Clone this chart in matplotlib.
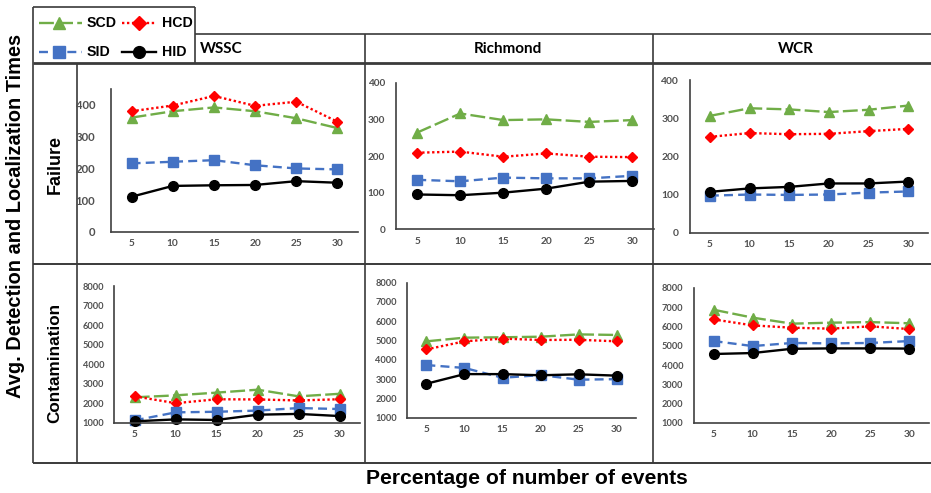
import matplotlib
matplotlib.use("Agg")
import matplotlib.pyplot as plt

# ---------------- data ----------------
categories = [5, 10, 15, 20, 25, 30]
series_names = ["SCD", "HCD", "SID", "HID"]
columns = ["WSSC", "Richmond", "WCR"]
rows = ["Failure", "Contamination"]

fail_wssc_scd = [360, 380, 392, 380, 358, 327]
fail_wssc_hcd = [380, 398, 428, 397, 410, 347]
fail_wssc_sid = [216, 221, 226, 210, 200, 197]
fail_wssc_hid = [111, 145, 147, 148, 160, 155]

fail_rich_scd = [264, 316, 298, 300, 293, 298]
fail_rich_hcd = [209, 212, 198, 207, 198, 197]
fail_rich_sid = [135, 131, 141, 139, 139, 146]
fail_rich_hid = [95, 93, 100, 111, 130, 132]

fail_wcr_scd = [306, 326, 323, 316, 322, 333]
fail_wcr_hcd = [251, 261, 258, 259, 266, 272]
fail_wcr_sid = [97, 100, 99, 100, 105, 108]
fail_wcr_hid = [107, 116, 120, 129, 129, 134]

cont_wssc_scd = [2300, 2400, 2540, 2690, 2350, 2480]
cont_wssc_hcd = [2350, 2000, 2200, 2190, 2140, 2200]
cont_wssc_sid = [1120, 1530, 1560, 1620, 1750, 1700]
cont_wssc_hid = [1070, 1170, 1140, 1410, 1450, 1340]

cont_rich_scd = [4960, 5150, 5170, 5200, 5320, 5290]
cont_rich_hcd = [4540, 4960, 5100, 5030, 5040, 4960]
cont_rich_sid = [3730, 3580, 3070, 3210, 2970, 3000]
cont_rich_hid = [2760, 3260, 3260, 3200, 3250, 3180]

cont_wcr_scd = [6860, 6450, 6140, 6190, 6220, 6160]
cont_wcr_hcd = [6360, 6050, 5930, 5880, 6000, 5860]
cont_wcr_sid = [5240, 4980, 5140, 5120, 5140, 5240]
cont_wcr_hid = [4570, 4620, 4840, 4860, 4860, 4850]

fail_ticks = [0, 100, 200, 300, 400]
cont_ticks = [1000, 2000, 3000, 4000, 5000, 6000, 7000, 8000]

# ---------------- styles ----------------
styles = {
    "SCD": dict(color="#70AD47", ls=(0, (6.3, 1.8)), marker="^", ms=7.5),
    "HCD": dict(color="#FF0000", ls=(0, (1.0, 1.1)), marker="D", ms=5.5),
    "SID": dict(color="#4472C4", ls=(0, (3.8, 2.2)), marker="s", ms=6.5),
    "HID": dict(color="#000000", ls="-", marker="o", ms=7.0),
}
LW = 1.7
W, H = 931, 493
fig = plt.figure(figsize=(W / 100, H / 100), dpi=100)

# overlay for the table frame and labels (pixel coords)
ov = fig.add_axes([0, 0, 1, 1], zorder=0)
ov.set_xlim(0, W)
ov.set_ylim(H, 0)
ov.axis("off")

lc = "#3a3a3a"
def hline(y, x1, x2, lw=1.2):
    ov.plot([x1, x2], [y, y], color=lc, lw=lw, solid_capstyle="butt")
def vline(x, y1, y2, lw=1.2):
    ov.plot([x, x], [y1, y2], color=lc, lw=lw, solid_capstyle="butt")

hline(7, 33, 195)
hline(34, 195, W)
hline(63, 33, W, lw=2.0)
hline(263.5, 33, W, lw=1.4)
hline(463, 33, W, lw=1.4)
vline(33, 7, 463)
vline(195, 7, 63)
vline(77, 63, 463)
vline(364.5, 34, 463)
vline(652.5, 34, 463)

# headers
ov.text(200, 49, columns[0], fontsize=11, fontweight="bold", family="Lato",
        ha="left", va="center")
ov.text(508, 49, columns[1], fontsize=11, fontweight="bold", family="Lato",
        ha="center", va="center")
ov.text(796, 49, columns[2], fontsize=11, fontweight="bold", family="Lato",
        ha="center", va="center")
ov.text(55, 165, rows[0], fontsize=13, fontweight="bold", family="Liberation Sans",
        rotation=90, ha="center", va="center")
ov.text(55, 363, rows[1], fontsize=12.3, fontweight="bold", family="Liberation Sans",
        rotation=90, ha="center", va="center")
ov.text(16, 216, "Avg. Detection and Localization Times", fontsize=14.4,
        fontweight="bold", family="Liberation Sans", rotation=90,
        ha="center", va="center")
ov.text(527, 478, "Percentage of number of events", fontsize=15.2,
        fontweight="bold", family="Liberation Sans", ha="center", va="center")

# legend (manual)
leg_pos = {"SCD": (39, 82, 59, 87, 23), "HCD": (122, 156, 139, 162, 23),
           "SID": (39, 82, 59, 87, 52), "HID": (122, 156, 139, 162, 52)}
for name in series_names:
    x1, x2, xm, xt, y = leg_pos[name]
    st = styles[name]
    ov.plot([x1, x2], [y, y], color=st["color"], ls=st["ls"], lw=LW)
    ov.plot([xm], [y], color=st["color"], marker=st["marker"], ms=st["ms"] + 1.5,
            ls="none")
    ov.text(xt, y, name, fontsize=10.2, fontweight="bold", family="Liberation Sans",
            ha="left", va="center")

# panels: (x1, y_top, x2, y_bottom) in pixels, ylim, ticks, ytick font size, ypad
panels = [
    ((111, 89, 358, 232), (0, 450), fail_ticks, 8.2, 11.5,
     [fail_wssc_scd, fail_wssc_hcd, fail_wssc_sid, fail_wssc_hid]),
    ((395.7, 82.7, 654, 229.3), (0, 400), fail_ticks, 7.2, 7.7,
     [fail_rich_scd, fail_rich_hcd, fail_rich_sid, fail_rich_hid]),
    ((690, 80, 928, 232.7), (0, 400), fail_ticks, 7.4, 7.9,
     [fail_wcr_scd, fail_wcr_hcd, fail_wcr_sid, fail_wcr_hid]),
    ((114.3, 286, 360, 422.7), (1000, 8000), cont_ticks, 6.7, 7.2,
     [cont_wssc_scd, cont_wssc_hcd, cont_wssc_sid, cont_wssc_hid]),
    ((407.3, 282.7, 636, 417.7), (1000, 8000), cont_ticks, 6.7, 7.6,
     [cont_rich_scd, cont_rich_hcd, cont_rich_sid, cont_rich_hid]),
    ((694, 287.7, 929, 423), (1000, 8000), cont_ticks, 6.7, 7.9,
     [cont_wcr_scd, cont_wcr_hcd, cont_wcr_sid, cont_wcr_hid]),
]

cat_labels = [str(c) for c in categories]
for (x1, yt, x2, yb), ylim, yt_ticks, yfs, ypad, data in panels:
    ax = fig.add_axes([x1 / W, 1 - yb / H, (x2 - x1) / W, (yb - yt) / H], zorder=2)
    ax.patch.set_alpha(0)
    for name, vals in zip(series_names, data):
        st = styles[name]
        ax.plot(cat_labels, vals, color=st["color"], ls=st["ls"], lw=LW,
                marker=st["marker"], ms=st["ms"], clip_on=False)
    ax.set_xlim(-0.5, len(categories) - 0.5)
    ax.set_ylim(*ylim)
    ax.set_yticks(yt_ticks)
    for s in ["top", "right"]:
        ax.spines[s].set_visible(False)
    for s in ["left", "bottom"]:
        ax.spines[s].set_color("#404040")
        ax.spines[s].set_linewidth(1.2)
    ax.tick_params(axis="both", length=0, colors="#505050")
    ax.tick_params(axis="y", pad=ypad, labelsize=yfs)
    ax.tick_params(axis="x", pad=5.2, labelsize=7.3)
    for lab in ax.get_xticklabels() + ax.get_yticklabels():
        lab.set_fontweight("bold")
        lab.set_family("Lato")

fig.savefig("out.png", dpi=100)
